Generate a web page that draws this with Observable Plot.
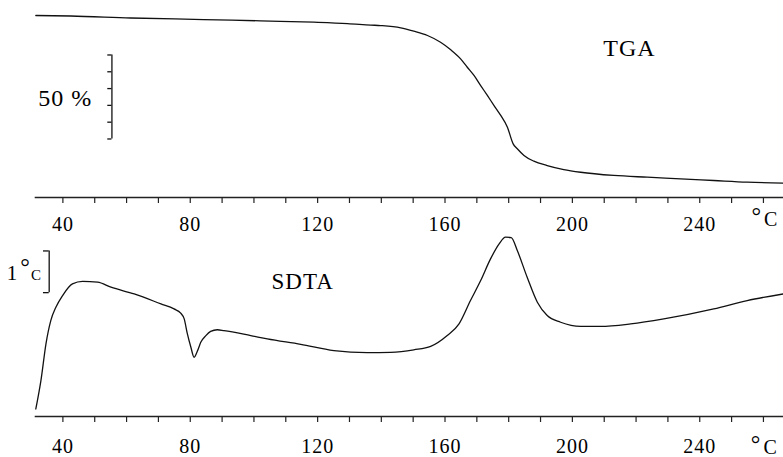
<!DOCTYPE html>
<html>
<head>
<meta charset="utf-8">
<script src="https://cdn.jsdelivr.net/npm/d3@7"></script>
<script src="https://cdn.jsdelivr.net/npm/@observablehq/plot@0.6"></script>
<style>
html, body { margin: 0; padding: 0; background: #fff; overflow: hidden; }
#chart svg { display: block; font-family: "Liberation Serif", "Times New Roman", serif !important; }
#chart text { font-family: "Liberation Serif", "Times New Roman", serif !important; letter-spacing: 1px; }
</style>
</head>
<body>
<div id="chart"></div>
<script>
// ---- Data ----
// TGA: temperature (°C) and remaining mass (%)
const tgaTemp = [31.5, 42.5, 61.3, 84.2, 102.1, 118.8, 129.4, 136.7, 139.8, 146.1, 150.2, 154.5, 158.6, 161.8, 164.9, 167.0, 169.1, 171.2, 173.3, 175.4, 177.5, 179.6, 181.4, 182.7, 184.8, 187.9, 192.1, 197.3, 202.6, 213.0, 223.5, 234.0, 244.4, 254.9, 266.3];
const tgaMass = [100, 99.7, 98.5, 97.6, 96.8, 96.0, 95.2, 94.3, 94.0, 92.7, 90.7, 88.1, 84.1, 79.6, 74.2, 69.2, 64.3, 58.3, 52.4, 46.4, 40.5, 33.5, 23.6, 20.7, 16.7, 13.3, 10.7, 8.3, 6.7, 4.8, 3.75, 2.8, 1.8, 0.8, 0.2];

// SDTA: temperature (°C) and temperature difference (°C, arbitrary origin)
const sdtaTemp = [31.5, 33.1, 34.7, 36.2, 37.8, 39.9, 43.0, 46.2, 50.9, 55.1, 62.4, 70.8, 74.9, 77.0, 78.1, 79.1, 80.2, 81.2, 82.3, 83.3, 84.9, 86.4, 88.5, 90.6, 99.0, 104.2, 114.7, 125.1, 135.6, 142.9, 150.2, 155.5, 160.7, 164.4, 168.0, 171.2, 174.3, 177.0, 179.0, 180.8, 182.7, 185.8, 189.0, 192.1, 196.3, 202.6, 208.8, 218.3, 228.7, 244.4, 254.9, 266.3];
const sdtaDelta = [0.18, 0.86, 1.75, 2.30, 2.62, 2.90, 3.18, 3.24, 3.22, 3.10, 2.94, 2.70, 2.58, 2.48, 2.34, 1.98, 1.66, 1.42, 1.58, 1.78, 1.94, 2.04, 2.08, 2.06, 1.94, 1.86, 1.73, 1.58, 1.53, 1.54, 1.60, 1.68, 1.94, 2.22, 2.78, 3.26, 3.78, 4.14, 4.30, 4.29, 3.98, 3.34, 2.74, 2.42, 2.26, 2.16, 2.16, 2.22, 2.34, 2.58, 2.78, 2.94];

// Axis ticks
const tickValues = [40, 50, 60, 70, 80, 90, 100, 110, 120, 130, 140, 150, 160, 170, 180, 190, 200, 210, 220, 230, 240, 250, 260];
const tickLabels = [40, 80, 120, 160, 200, 240];

// Scale bars
const tgaScaleTicks = [26.5, 36.5, 46.5, 56.5, 66.5, 76.5];   // 50 % in 10 % steps
const sdtaScaleEnds = [2.97, 3.97];                           // 1 °C

// Labels
const tgaTitle = "TGA";
const sdtaTitle = "SDTA";
const tgaScaleLabel = "50 %";
const unitDeg = "°";
const unitC = "C";
const sdtaScaleNum = "1";

// ---- Build tables ----
const tgaRows = tgaTemp.map((t, i) => ({t, v: tgaMass[i]}));
const sdtaRows = sdtaTemp.map((t, i) => ({t, v: sdtaDelta[i]}));

const xDomain = [31.4, 266.3];
const serif = "Liberation Serif, Times New Roman, serif";
const ink = "#111";
const fmt = d => tickLabels.includes(d) ? String(d) : "";

function axisMarks(pad) {
  return [
    Plot.frame({anchor: "bottom", stroke: "#222", strokeWidth: 1.6}),
    Plot.axisX({ticks: tickValues, tickFormat: fmt, tickSize: 6, tickPadding: pad, label: null, stroke: "#222", strokeWidth: 1.2, fill: "#000"})
  ];
}

const tgaPlot = Plot.plot({
  width: 783, height: 235,
  marginTop: 0, marginRight: 0, marginBottom: 38, marginLeft: 35,
  style: {fontFamily: serif, fontSize: "20px", color: "#000", background: "#fff", overflow: "visible"},
  x: {domain: xDomain, axis: null, label: null},
  y: {domain: [0, 100], range: [183, 15], axis: null, label: null},
  marks: [
    ...axisMarks(13),
    Plot.line(tgaRows, {x: "t", y: "v", stroke: ink, strokeWidth: 1.3, curve: "monotone-x"}),
    Plot.ruleX([55.4], {y1: tgaScaleTicks[0], y2: tgaScaleTicks[tgaScaleTicks.length - 1], stroke: ink, strokeWidth: 1.3}),
    Plot.ruleY(tgaScaleTicks, {x1: 54.1, x2: 55.4, stroke: ink, strokeWidth: 1.3}),
    Plot.text([tgaScaleLabel], {x: 49.2, y: 46.4, text: d => d, textAnchor: "end", lineAnchor: "bottom", fontSize: 24, fill: "#000"}),
    Plot.text([tgaTitle], {x: 217.9, y: 75.6, text: d => d, lineAnchor: "bottom", fontSize: 24, fill: "#000"}),
    Plot.text([unitDeg], {x: 257.9, y: -24.2, text: d => d, lineAnchor: "bottom", fontSize: 24, fill: "#000"}),
    Plot.text([unitC], {x: 262.4, y: -25.0, text: d => d, lineAnchor: "bottom", fontSize: 20, fill: "#000"})
  ]
});

const sdtaPlot = Plot.plot({
  width: 783, height: 222,
  marginTop: 0, marginRight: 0, marginBottom: 41, marginLeft: 35,
  style: {fontFamily: serif, fontSize: "20px", color: "#000", background: "#fff", overflow: "visible"},
  x: {domain: xDomain, axis: null, label: null},
  y: {domain: [0, 4], range: [181, 14.2], axis: null, label: null},
  marks: [
    ...axisMarks(16),
    Plot.line(sdtaRows, {x: "t", y: "v", stroke: ink, strokeWidth: 1.3, curve: "monotone-x"}),
    Plot.ruleX([35.7], {y1: sdtaScaleEnds[0], y2: sdtaScaleEnds[1], stroke: ink, strokeWidth: 1.3}),
    Plot.ruleY(sdtaScaleEnds, {x1: 33.9, x2: 35.7, stroke: ink, strokeWidth: 1.3}),
    Plot.text([sdtaScaleNum], {x: 24.2, y: 3.28, text: d => d, lineAnchor: "bottom", fontSize: 21, fill: "#000"}),
    Plot.text([unitDeg], {x: 28.3, y: 3.39, text: d => d, lineAnchor: "bottom", fontSize: 24, fill: "#000"}),
    Plot.text([unitC], {x: 31.7, y: 3.28, text: d => d, lineAnchor: "bottom", fontSize: 15, fill: "#000"}),
    Plot.text([sdtaTitle], {x: 115.3, y: 3.06, text: d => d, lineAnchor: "bottom", fontSize: 23, fill: "#000"}),
    Plot.text([unitDeg], {x: 257.7, y: -0.86, text: d => d, lineAnchor: "bottom", fontSize: 24, fill: "#000"}),
    Plot.text([unitC], {x: 262.3, y: -0.91, text: d => d, lineAnchor: "bottom", fontSize: 20, fill: "#000"})
  ]
});

const chart = document.getElementById("chart");
chart.appendChild(tgaPlot);
chart.appendChild(sdtaPlot);
</script>
</body>
</html>
